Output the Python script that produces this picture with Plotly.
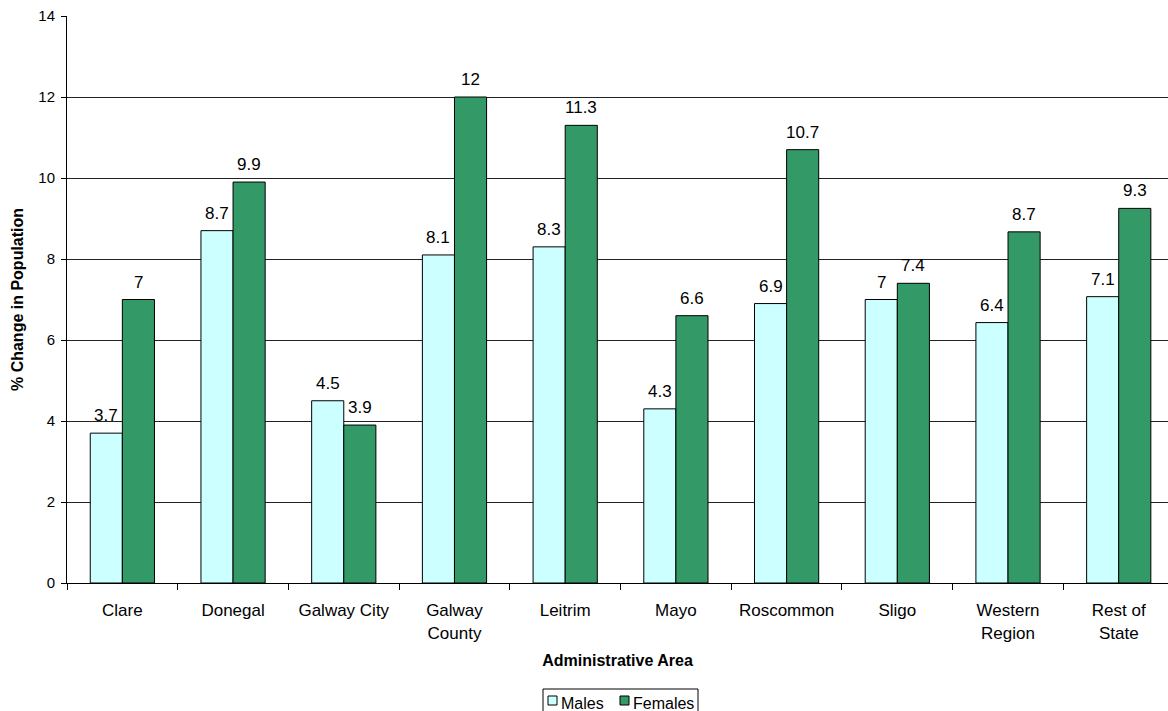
import plotly.graph_objects as go

categories = ["Clare", "Donegal", "Galway City", "Galway<br>County", "Leitrim", "Mayo",
              "Roscommon", "Sligo", "Western<br>Region", "Rest of<br>State"]
males = [3.7, 8.7, 4.5, 8.1, 8.3, 4.3, 6.9, 7.0, 6.43, 7.07]
females = [7.0, 9.9, 3.9, 12.0, 11.3, 6.6, 10.7, 7.4, 8.67, 9.25]
male_labels = ["3.7", "8.7", "4.5", "8.1", "8.3", "4.3", "6.9", "7", "6.4", "7.1"]
female_labels = ["7", "9.9", "3.9", "12", "11.3", "6.6", "10.7", "7.4", "8.7", "9.3"]
y_ticks = [0, 2, 4, 6, 8, 10, 12, 14]
series_names = ["Males", "Females"]
series_colors = ["#CCFFFF", "#339966"]

FONT = "Liberation Sans, Arial, sans-serif"

# plot area in pixels: x 67..1168, y 16..583
L, T, B, W = 67, 16, 583, 1101
H = B - T
X_RANGE = [-0.5, 9.445]
BARGAP = 0.42

fig = go.Figure()
for name, vals, color in zip(series_names, [males, females], series_colors):
    fig.add_trace(go.Bar(
        name=name, x=categories, y=vals,
        marker=dict(color=color, line=dict(color="black", width=1)),
    ))

# value labels centred above each bar
cat_px = W / (X_RANGE[1] - X_RANGE[0])
half_bar = cat_px * (1 - BARGAP) / 4
for sign, vals, labels in [(-1, males, male_labels), (1, females, female_labels)]:
    for c, v, lab in zip(categories, vals, labels):
        fig.add_annotation(x=c, y=v, xref="x", yref="y", text=lab, showarrow=False,
                           xanchor="center", yanchor="bottom",
                           xshift=sign * half_bar, yshift=6,
                           font=dict(size=17, color="black", family=FONT))


def px_x(px):
    return (px - L) / W


def px_y(py):
    return (B - py) / H


fig.update_layout(
    width=1168, height=711,
    margin=dict(l=L, r=0, t=T, b=711 - B, autoexpand=False),
    paper_bgcolor="white", plot_bgcolor="white",
    barmode="group", bargap=BARGAP, bargroupgap=0,
    font=dict(family=FONT, size=15, color="black"),
    showlegend=False,
    xaxis=dict(
        title=dict(text="<b>Administrative Area</b>", font=dict(size=16), standoff=13),
        range=X_RANGE,
        showline=True, linecolor="black", linewidth=1,
        ticks="outside", tickson="boundaries", ticklen=6, tickcolor="black",
        tickfont=dict(size=17), ticklabelstandoff=12,
        showgrid=False, zeroline=False,
    ),
    yaxis=dict(
        title=dict(text="<b>% Change in Population</b>", font=dict(size=16), standoff=10),
        range=[0, 14], tickvals=y_ticks,
        showline=True, linecolor="black", linewidth=1,
        ticks="outside", ticklen=5, tickcolor="black", tickfont=dict(size=15),
        ticklabelstandoff=3,
        showgrid=True, gridcolor="#222222", gridwidth=1, zeroline=False,
    ),
)

# legend drawn as a compact boxed key below the axis title
fig.add_shape(type="rect", xref="paper", yref="paper",
              x0=px_x(543), x1=px_x(698), y0=px_y(689), y1=px_y(713),
              line=dict(color="black", width=1), fillcolor="white", layer="above")
key_pos = [(548, 559), (620, 631)]
for (sq_x, tx), name, color in zip(key_pos, series_names, series_colors):
    fig.add_shape(type="rect", xref="paper", yref="paper",
                  x0=px_x(sq_x), x1=px_x(sq_x + 9), y0=px_y(696), y1=px_y(705),
                  line=dict(color="black", width=1), fillcolor=color, layer="above")
    fig.add_annotation(xref="paper", yref="paper", x=px_x(tx), y=px_y(703),
                       xanchor="left", yanchor="middle", text=name, showarrow=False,
                       font=dict(size=16, color="black", family=FONT))

fig.write_html("out.html")
